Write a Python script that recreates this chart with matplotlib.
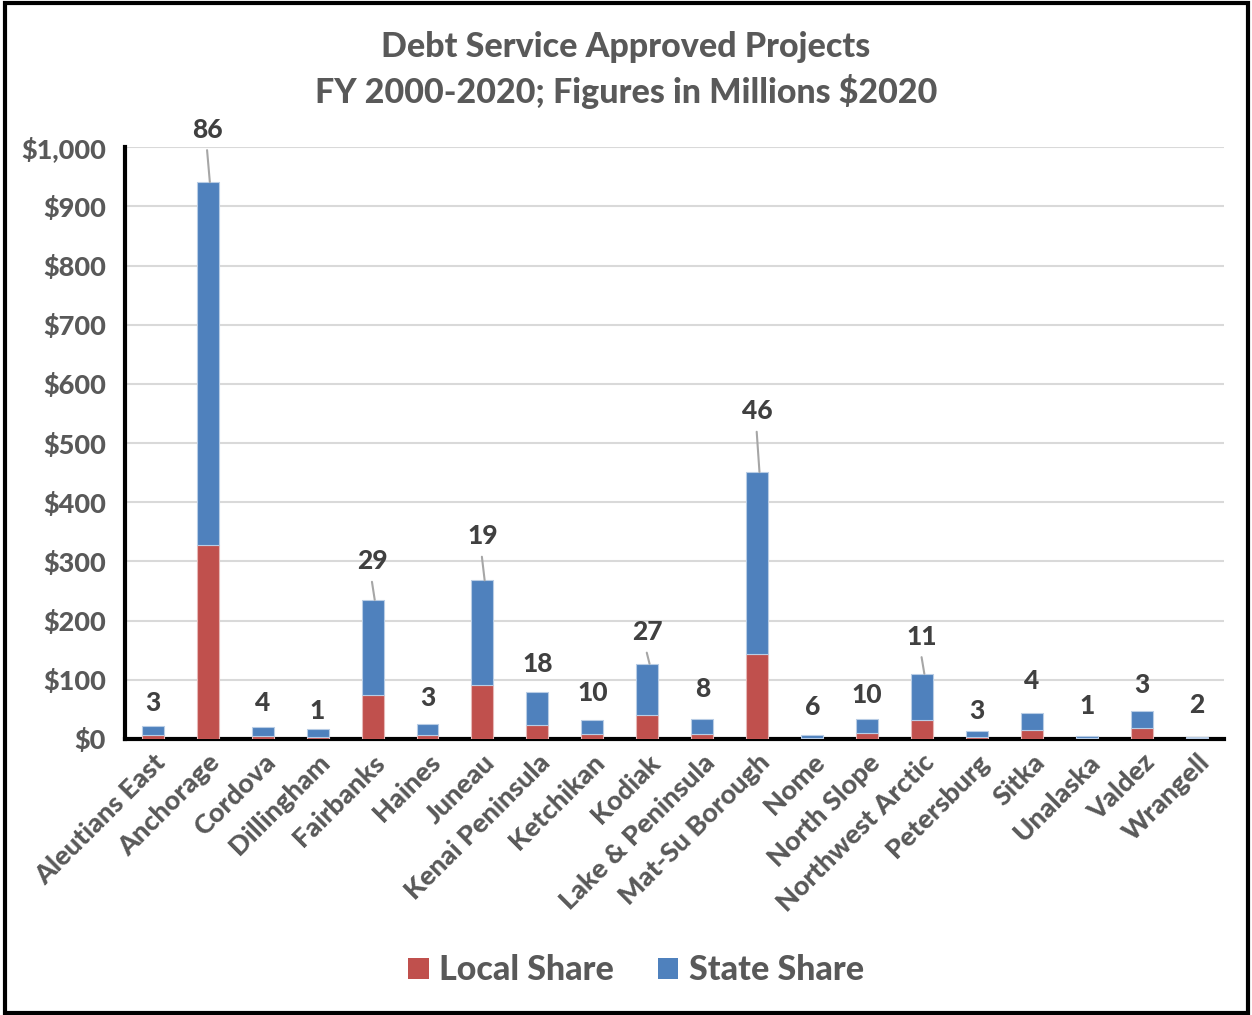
import matplotlib
matplotlib.use("Agg")
import matplotlib.pyplot as plt
from matplotlib.patches import Rectangle, Patch
import numpy as np

plt.rcParams['font.family'] = ['Lato', 'DejaVu Sans']

regions = ["Aleutians East", "Anchorage", "Cordova", "Dillingham", "Fairbanks",
           "Haines", "Juneau", "Kenai Peninsula", "Ketchikan", "Kodiak",
           "Lake & Peninsula", "Mat-Su Borough", "Nome", "North Slope",
           "Northwest Arctic", "Petersburg", "Sitka", "Unalaska", "Valdez",
           "Wrangell"]
local_share = [7, 328, 5, 4, 74, 6, 91, 23, 9, 40, 8, 144, 1, 10, 32, 4, 15, 1, 18, 1]
state_share = [15, 613, 15, 13, 161, 19, 177, 56, 23, 87, 26, 307, 5, 23, 78, 9, 29, 4, 29, 3]
project_counts = [3, 86, 4, 1, 29, 3, 19, 18, 10, 27, 8, 46, 6, 10, 11, 3, 4, 1, 3, 2]

# label gap above each bar (points) and whether a leader line is drawn
label_gap = [8, 29, 9, 4, 19, 10, 23, 12, 11, 14, 13, 35, 12, 9, 18, 6, 14, 13, 10, 14]
leader = [False, True, False, False, True, False, True, False, False, True,
          False, True, False, False, True, False, False, False, False, False]

red = "#C0504D"
blue = "#4F81BD"
grey_text = "#595959"
weight = "black"

fig = plt.figure(figsize=(12.52, 10.15), dpi=100)
ax = fig.add_axes([0.1, 0.272, 0.878, 0.583])

x = np.arange(len(regions))
ax.bar(x, local_share, width=0.4, color=red, edgecolor="#E6B8B7", linewidth=0.8, zorder=3)
ax.bar(x, state_share, width=0.4, bottom=local_share, color=blue,
       edgecolor="#B9CDE5", linewidth=0.8, zorder=3)

totals = np.array(local_share) + np.array(state_share)
for i, (t, n) in enumerate(zip(totals, project_counts)):
    gap = label_gap[i]
    ax.annotate(str(n), xy=(i, t), xytext=(0, gap), textcoords="offset points",
                ha="center", va="bottom", fontsize=19, fontweight=weight,
                color="#404040", zorder=5)
    if leader[i]:
        ax.annotate("", xy=(i + 0.04, t), xytext=(-2, gap - 6),
                    textcoords="offset points",
                    arrowprops=dict(arrowstyle="-", color="#A6A6A6", lw=1.5,
                                    shrinkA=0, shrinkB=0), zorder=4)

ax.set_xlim(-0.5, len(regions) - 0.5)
ax.set_ylim(0, 1000)
ax.set_yticks(np.arange(0, 1001, 100))
ax.set_yticklabels([f"${v:,}" for v in range(0, 1001, 100)])
ax.yaxis.grid(True, color="#D9D9D9", linewidth=1.5, zorder=0)
ax.set_axisbelow(True)

ax.set_xticks(x)
ax.set_xticklabels(regions, rotation=45, ha="right", rotation_mode="anchor")
ax.tick_params(axis="both", length=0, labelsize=19.5, labelcolor=grey_text)
ax.tick_params(axis="y", pad=14)
ax.tick_params(axis="x", pad=8)
for lbl in ax.get_xticklabels() + ax.get_yticklabels():
    lbl.set_fontweight(weight)

for side in ["top", "right"]:
    ax.spines[side].set_visible(False)
for side in ["left", "bottom"]:
    ax.spines[side].set_linewidth(3)
    ax.spines[side].set_color("black")

fig.text(0.5, 0.954, "Debt Service Approved Projects", ha="center", va="center",
         fontsize=24.5, fontweight=weight, color=grey_text)
fig.text(0.5, 0.910, "FY 2000-2020; Figures in Millions $2020", ha="center", va="center",
         fontsize=24.5, fontweight=weight, color=grey_text)

handles = [Patch(facecolor=red, label="Local Share"), Patch(facecolor=blue, label="State Share")]
leg = fig.legend(handles=handles, loc="center", bbox_to_anchor=(0.508, 0.044), ncol=2,
                 frameon=False, fontsize=24.5, handlelength=0.6, handleheight=0.6,
                 columnspacing=1.3, handletextpad=0.3)
for t in leg.get_texts():
    t.set_fontweight(weight)
    t.set_color(grey_text)

fig.patches.append(Rectangle((0.004, 0.002), 0.993, 0.995, transform=fig.transFigure,
                             fill=False, edgecolor="black", linewidth=3))

fig.savefig("out.png", dpi=100)
